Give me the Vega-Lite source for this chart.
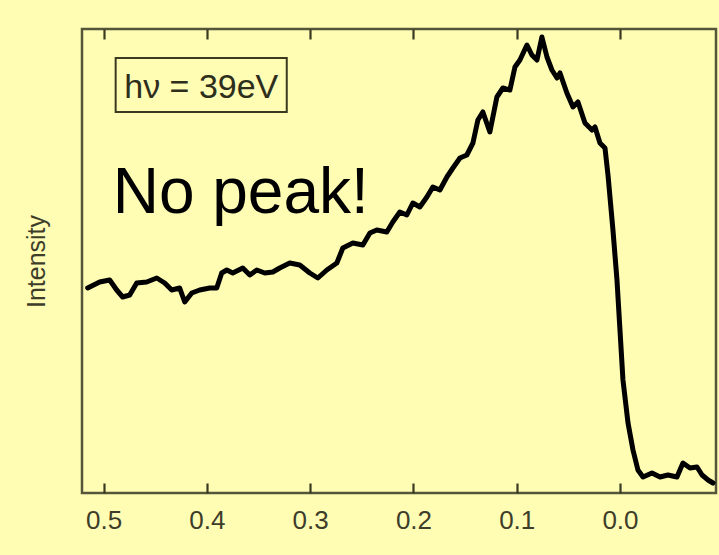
{
  "$schema": "https://vega.github.io/schema/vega-lite/v6.json",
  "width": 634,
  "height": 464,
  "autosize": {"type": "none"},
  "padding": {"left": 82, "top": 29, "right": 3, "bottom": 62},
  "background": "#fffcb4",
  "config": {
    "view": {"stroke": "#55553a", "strokeWidth": 2.5, "fill": "#fffcb4"},
    "font": "Liberation Sans"
  },
  "datasets": {
    "spectrum": [
      {"E": 0.5155, "I": 202}, {"E": 0.5039, "I": 208}, {"E": 0.4942, "I": 210}, {"E": 0.4874, "I": 200},
      {"E": 0.4816, "I": 193}, {"E": 0.4748, "I": 195}, {"E": 0.468, "I": 207}, {"E": 0.4583, "I": 208},
      {"E": 0.4486, "I": 212}, {"E": 0.4409, "I": 207}, {"E": 0.4341, "I": 200}, {"E": 0.4264, "I": 202},
      {"E": 0.4215, "I": 188}, {"E": 0.4147, "I": 197}, {"E": 0.407, "I": 200}, {"E": 0.3973, "I": 202},
      {"E": 0.3905, "I": 202}, {"E": 0.3857, "I": 217}, {"E": 0.3808, "I": 220}, {"E": 0.375, "I": 217},
      {"E": 0.3653, "I": 222}, {"E": 0.3585, "I": 215}, {"E": 0.3517, "I": 220}, {"E": 0.344, "I": 217},
      {"E": 0.3362, "I": 218}, {"E": 0.3295, "I": 222}, {"E": 0.3198, "I": 227}, {"E": 0.3101, "I": 225},
      {"E": 0.3004, "I": 217}, {"E": 0.2926, "I": 212}, {"E": 0.2839, "I": 220}, {"E": 0.2742, "I": 227},
      {"E": 0.2684, "I": 242}, {"E": 0.2587, "I": 247}, {"E": 0.249, "I": 245}, {"E": 0.2422, "I": 257},
      {"E": 0.2355, "I": 260}, {"E": 0.2258, "I": 258}, {"E": 0.22, "I": 268}, {"E": 0.2132, "I": 278},
      {"E": 0.2064, "I": 275}, {"E": 0.2006, "I": 287}, {"E": 0.1938, "I": 283}, {"E": 0.187, "I": 293},
      {"E": 0.1812, "I": 303}, {"E": 0.1744, "I": 300}, {"E": 0.1676, "I": 313}, {"E": 0.1618, "I": 322},
      {"E": 0.155, "I": 332}, {"E": 0.1483, "I": 335}, {"E": 0.1424, "I": 347}, {"E": 0.1376, "I": 370},
      {"E": 0.1328, "I": 378}, {"E": 0.126, "I": 358}, {"E": 0.1192, "I": 393}, {"E": 0.1134, "I": 402},
      {"E": 0.1066, "I": 400}, {"E": 0.1017, "I": 423}, {"E": 0.0969, "I": 430}, {"E": 0.0901, "I": 445},
      {"E": 0.0853, "I": 435}, {"E": 0.0804, "I": 430}, {"E": 0.0756, "I": 453}, {"E": 0.0707, "I": 433},
      {"E": 0.0659, "I": 420}, {"E": 0.061, "I": 412}, {"E": 0.0581, "I": 417}, {"E": 0.0514, "I": 397},
      {"E": 0.0455, "I": 383}, {"E": 0.0407, "I": 388}, {"E": 0.0339, "I": 367}, {"E": 0.0271, "I": 360},
      {"E": 0.0242, "I": 363}, {"E": 0.0194, "I": 347}, {"E": 0.0145, "I": 342}, {"E": 0.0116, "I": 315},
      {"E": 0.0068, "I": 260}, {"E": 0.0029, "I": 210}, {"E": 0.0, "I": 160}, {"E": -0.0029, "I": 110},
      {"E": -0.0078, "I": 67}, {"E": -0.0126, "I": 40}, {"E": -0.0174, "I": 20}, {"E": -0.0223, "I": 13},
      {"E": -0.031, "I": 17}, {"E": -0.0388, "I": 13}, {"E": -0.0465, "I": 15}, {"E": -0.0552, "I": 13},
      {"E": -0.061, "I": 27}, {"E": -0.0678, "I": 22}, {"E": -0.0746, "I": 23}, {"E": -0.0795, "I": 15},
      {"E": -0.0853, "I": 10}, {"E": -0.0901, "I": 7}
    ],
    "box": [{"x1": 0.4884, "x2": 0.3227, "y1": 432, "y2": 378}],
    "labels": [
      {"E": 0.4055, "I": 392, "text": "hν = 39eV", "kind": "small"},
      {"E": 0.4913, "I": 277, "text": "No peak!", "kind": "big"}
    ]
  },
  "resolve": {"axis": {"x": "independent"}},
  "layer": [
    {
      "data": {"name": "box"},
      "mark": {"type": "rect", "fill": null, "stroke": "#3a3a20", "strokeWidth": 2},
      "encoding": {
        "x": {"field": "x1", "type": "quantitative", "scale": {"domain": [0.521, -0.093], "nice": false, "zero": false},
          "axis": {"orient": "top", "labels": false, "title": null, "values": [0.5, 0.4, 0.3, 0.2, 0.1, 0.0], "tickSize": -10, "tickWidth": 2.2, "tickColor": "#3a3a20", "domain": false, "grid": false}},
        "x2": {"field": "x2"},
        "y": {"field": "y1", "type": "quantitative", "scale": {"domain": [-3, 461], "nice": false, "zero": false},
          "axis": {"title": "Intensity", "labels": false, "ticks": false, "domain": false, "grid": false, "titlePadding": 33, "titleFontSize": 25, "titleFontWeight": "normal", "titleColor": "#3d3d2a", "titleFont": "Liberation Sans"}},
        "y2": {"field": "y2"}
      }
    },
    {
      "data": {"name": "spectrum"},
      "mark": {"type": "line", "color": "#000000", "strokeWidth": 5, "strokeJoin": "round", "strokeCap": "round"},
      "encoding": {
        "x": {"field": "E", "type": "quantitative",
          "axis": {"orient": "bottom", "title": null, "values": [0.5, 0.4, 0.3, 0.2, 0.1, 0.0], "format": ".1f", "tickSize": -10, "tickWidth": 2.2, "tickColor": "#3a3a20", "domain": false, "grid": false, "labelPadding": 24, "labelFontSize": 26, "labelColor": "#3d3d2a", "labelFont": "Liberation Sans"}},
        "y": {"field": "I", "type": "quantitative"}
      }
    },
    {
      "data": {"name": "labels"},
      "transform": [{"filter": "datum.kind === 'small'"}],
      "mark": {"type": "text", "fontSize": 34, "color": "#2e2e1c", "align": "center", "baseline": "alphabetic", "font": "Liberation Sans"},
      "encoding": {
        "x": {"field": "E", "type": "quantitative", "axis": null},
        "y": {"field": "I", "type": "quantitative"},
        "text": {"field": "text"}
      }
    },
    {
      "data": {"name": "labels"},
      "transform": [{"filter": "datum.kind === 'big'"}],
      "mark": {"type": "text", "fontSize": 64, "color": "#000000", "align": "left", "baseline": "alphabetic", "font": "Liberation Sans"},
      "encoding": {
        "x": {"field": "E", "type": "quantitative", "axis": null},
        "y": {"field": "I", "type": "quantitative"},
        "text": {"field": "text"}
      }
    }
  ]
}
